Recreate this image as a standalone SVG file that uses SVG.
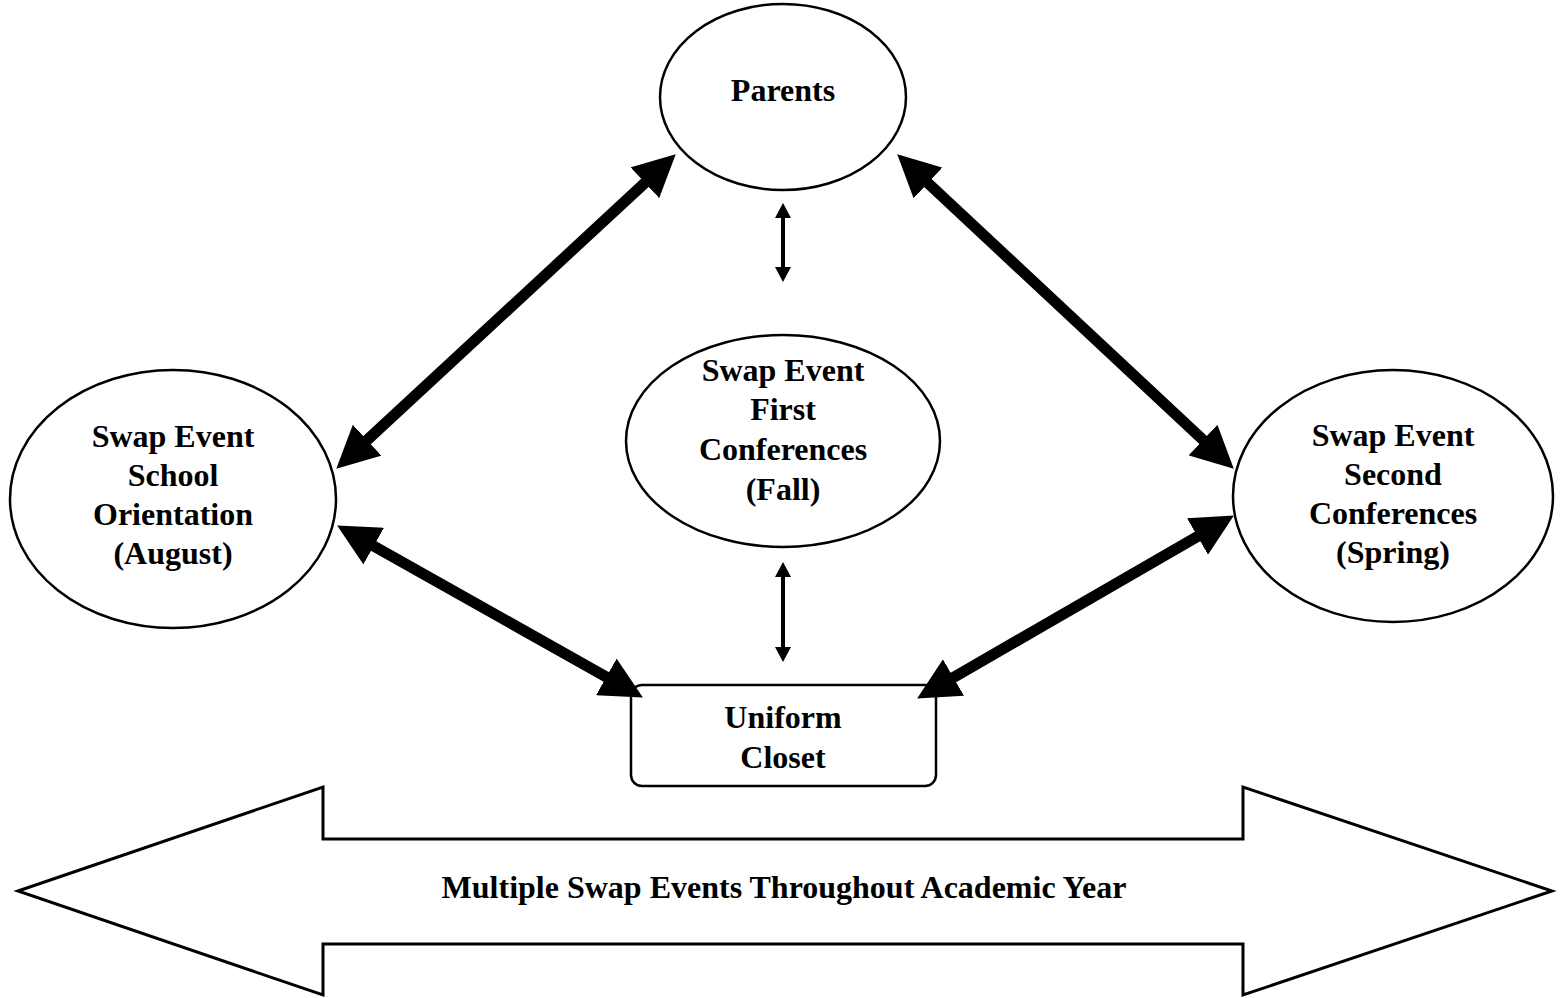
<svg xmlns="http://www.w3.org/2000/svg" width="1564" height="998" viewBox="0 0 1564 998">
<style>
.node{fill:#fff;stroke:#000;stroke-width:2.5}
.t{font-family:"Liberation Serif","Times New Roman",serif;font-weight:bold;font-size:32px;text-anchor:middle;fill:#000}
.thick{stroke:#000;stroke-width:11;fill:none;marker-start:url(#big);marker-end:url(#big)}
.thin{stroke:#000;stroke-width:4;fill:none;marker-start:url(#small);marker-end:url(#small)}
</style>
<defs>
<marker id="big" markerUnits="userSpaceOnUse" markerWidth="42" markerHeight="42" refX="20" refY="20" orient="auto-start-reverse" viewBox="0 0 40 40">
<path d="M0,0 L40,20 L0,40 z" fill="#000"/>
</marker>
<marker id="small" markerUnits="userSpaceOnUse" markerWidth="16" markerHeight="16" refX="7.5" refY="8" orient="auto-start-reverse" viewBox="0 0 15 16">
<path d="M0,0 L15,8 L0,16 z" fill="#000"/>
</marker>
</defs>
<rect width="1564" height="998" fill="#fff"/>
<g id="timeline">
<polygon points="18,891 323,787 323,839 1243,839 1243,787 1552,891 1243,995 1243,944 323,944 323,995" fill="#fff" stroke="#000" stroke-width="3"/>
<text class="t" x="784" y="898">Multiple Swap Events Throughout Academic Year</text>
</g>
<g id="parents">
<ellipse class="node" cx="783" cy="97" rx="123" ry="93"/>
<text class="t" x="783" y="101">Parents</text>
</g>
<g id="first">
<ellipse class="node" cx="783" cy="441" rx="157" ry="106"/>
<text class="t" x="783" y="381">Swap Event</text>
<text class="t" x="783" y="420">First</text>
<text class="t" x="783" y="460">Conferences</text>
<text class="t" x="783" y="500">(Fall)</text>
</g>
<g id="orientation">
<ellipse class="node" cx="173" cy="499" rx="163" ry="129"/>
<text class="t" x="173" y="447">Swap Event</text>
<text class="t" x="173" y="486">School</text>
<text class="t" x="173" y="525">Orientation</text>
<text class="t" x="173" y="564">(August)</text>
</g>
<g id="second">
<ellipse class="node" cx="1393" cy="496" rx="160" ry="126"/>
<text class="t" x="1393" y="446">Swap Event</text>
<text class="t" x="1393" y="485">Second</text>
<text class="t" x="1393" y="524">Conferences</text>
<text class="t" x="1393" y="563">(Spring)</text>
</g>
<g id="closet">
<rect class="node" x="631" y="685" width="305" height="101" rx="11"/>
<text class="t" x="783" y="728">Uniform</text>
<text class="t" x="783" y="768">Closet</text>
</g>
<g id="connectors">
<line class="thick" x1="351.7" y1="454.4" x2="660.3" y2="168.6"/>
<line class="thick" x1="355.4" y1="535.8" x2="624.6" y2="687.2"/>
<line class="thick" x1="912.6" y1="168.7" x2="1218.4" y2="454.3"/>
<line class="thick" x1="1215.7" y1="526" x2="935.3" y2="688"/>
<line class="thin" x1="783" y1="210.5" x2="783" y2="274.5"/>
<line class="thin" x1="783" y1="569.5" x2="783" y2="654.5"/>
</g>
</svg>
